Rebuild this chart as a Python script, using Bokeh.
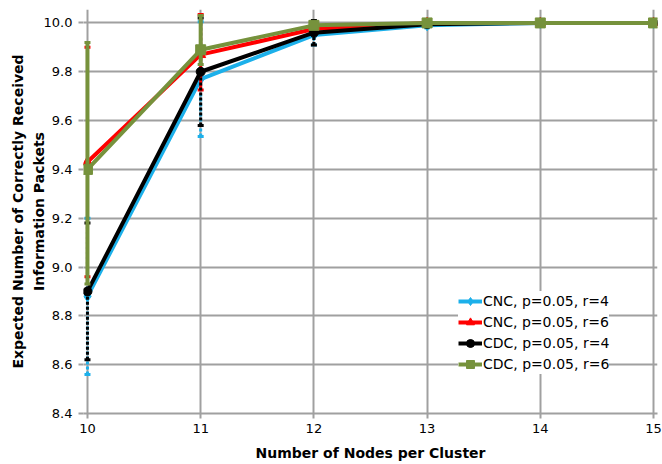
from bokeh.plotting import figure
from bokeh.models import Legend, LegendItem, FixedTicker, NumeralTickFormatter, Range1d
from bokeh.embed import file_html
from bokeh.resources import INLINE

# ---- data ----
nodes = [10, 11, 12, 13, 14, 15]
y_ticks = [8.4, 8.6, 8.8, 9.0, 9.2, 9.4, 9.6, 9.8, 10.0]

cnc_r4 = [8.88, 9.77, 9.95, 9.99, 10.0, 10.0]
cnc_r4_lo = [0.32, 0.235, 0.04, 0.01, 0.0, 0.0]
cnc_r4_hi = [0.32, 0.235, 0.04, 0.01, 0.0, 0.0]

cnc_r6 = [9.43, 9.87, 9.975, 10.0, 10.0, 10.0]
cnc_r6_lo = [0.47, 0.145, 0.02, 0.0, 0.0, 0.0]
cnc_r6_hi = [0.47, 0.165, 0.02, 0.0, 0.0, 0.0]

cdc_r4 = [8.90, 9.80, 9.96, 9.995, 10.0, 10.0]
cdc_r4_lo = [0.28, 0.22, 0.05, 0.01, 0.0, 0.0]
cdc_r4_hi = [0.28, 0.22, 0.05, 0.01, 0.0, 0.0]

cdc_r6 = [9.40, 9.89, 9.99, 10.0, 10.0, 10.0]
cdc_r6_lo = [0.47, 0.06, 0.01, 0.0, 0.0, 0.0]
cdc_r6_hi = [0.52, 0.14, 0.01, 0.0, 0.0, 0.0]

labels = ["CNC, p=0.05, r=4", "CNC, p=0.05, r=6", "CDC, p=0.05, r=4", "CDC, p=0.05, r=6"]
colors = ["#1CB0EA", "#FF0000", "#000000", "#76923C"]
markers = ["diamond", "triangle", "circle", "square"]
msizes = [11, 10, 9, 10]
err_dash = ["3 2", "solid", "3 2", "solid"]
err_width = [3, 3, 3, 4]

series = [
    (cnc_r4, cnc_r4_lo, cnc_r4_hi),
    (cnc_r6, cnc_r6_lo, cnc_r6_hi),
    (cdc_r4, cdc_r4_lo, cdc_r4_hi),
    (cdc_r6, cdc_r6_lo, cdc_r6_hi),
]

FONT = "DejaVu Sans"
GRID = "#A0A0A0"

p = figure(width=662, height=464,
           x_range=Range1d(9.965, 15.035), y_range=Range1d(8.4, 10.055),
           output_backend="svg", toolbar_location=None,
           min_border_left=83, min_border_right=5, min_border_top=9, min_border_bottom=51)

p.outline_line_color = None
p.background_fill_color = "white"
p.border_fill_color = "white"

p.xaxis.ticker = FixedTicker(ticks=nodes)
p.yaxis.ticker = FixedTicker(ticks=y_ticks)
p.yaxis.formatter = NumeralTickFormatter(format="0.0")

for g in (p.xgrid, p.ygrid):
    g.grid_line_color = GRID
    g.grid_line_width = 2

for ax in (p.xaxis, p.yaxis):
    ax.major_label_text_font = FONT
    ax.major_label_text_font_size = "13px"
    ax.major_label_text_color = "black"
    ax.axis_label_text_font = FONT
    ax.axis_label_text_font_size = "14px"
    ax.axis_label_text_font_style = "bold"
    ax.axis_label_text_color = "black"
    ax.minor_tick_line_color = None
    ax.major_tick_line_color = GRID
    ax.major_tick_line_width = 2
    ax.major_tick_in = 0
    ax.major_tick_out = 5

p.xaxis.axis_line_color = GRID
p.xaxis.axis_line_width = 2
p.yaxis.axis_line_color = None
p.xaxis.major_label_standoff = 5
p.yaxis.major_label_standoff = 6
p.xaxis.axis_label_standoff = 9
p.yaxis.axis_label_standoff = -6
p.yaxis.axis_label_text_line_height = 1.3

p.xaxis.axis_label = "Number of Nodes per Cluster"
p.yaxis.axis_label = "Expected Number of Correctly Received\nInformation Packets"

items = []
for (vals, lo, hi), lab, col, mk, ms, dash, ew in zip(series, labels, colors, markers, msizes, err_dash, err_width):
    lower = [v - e for v, e in zip(vals, lo)]
    upper = [v + e for v, e in zip(vals, hi)]
    p.segment(x0=nodes, y0=lower, x1=nodes, y1=upper, line_color=col,
              line_width=ew, line_dash=dash)
    p.scatter(x=nodes + nodes, y=lower + upper, marker="dash", size=6,
              line_color=col, line_width=3)
    lr = p.line(x=nodes, y=vals, line_color=col, line_width=4)
    sr = p.scatter(x=nodes, y=vals, marker=mk, size=ms, fill_color=col, line_color=col)
    items.append(LegendItem(label=lab, renderers=[lr, sr]))

legend = Legend(items=items, location=(375, 39),
                label_text_font=FONT, label_text_font_size="14px",
                label_text_color="black",
                glyph_width=24, glyph_height=20, label_height=20,
                spacing=1, padding=12, margin=0, label_standoff=1,
                border_line_color=None, background_fill_color="white",
                background_fill_alpha=1.0)
p.add_layout(legend)

open("out.html", "w").write(file_html(p, INLINE))
